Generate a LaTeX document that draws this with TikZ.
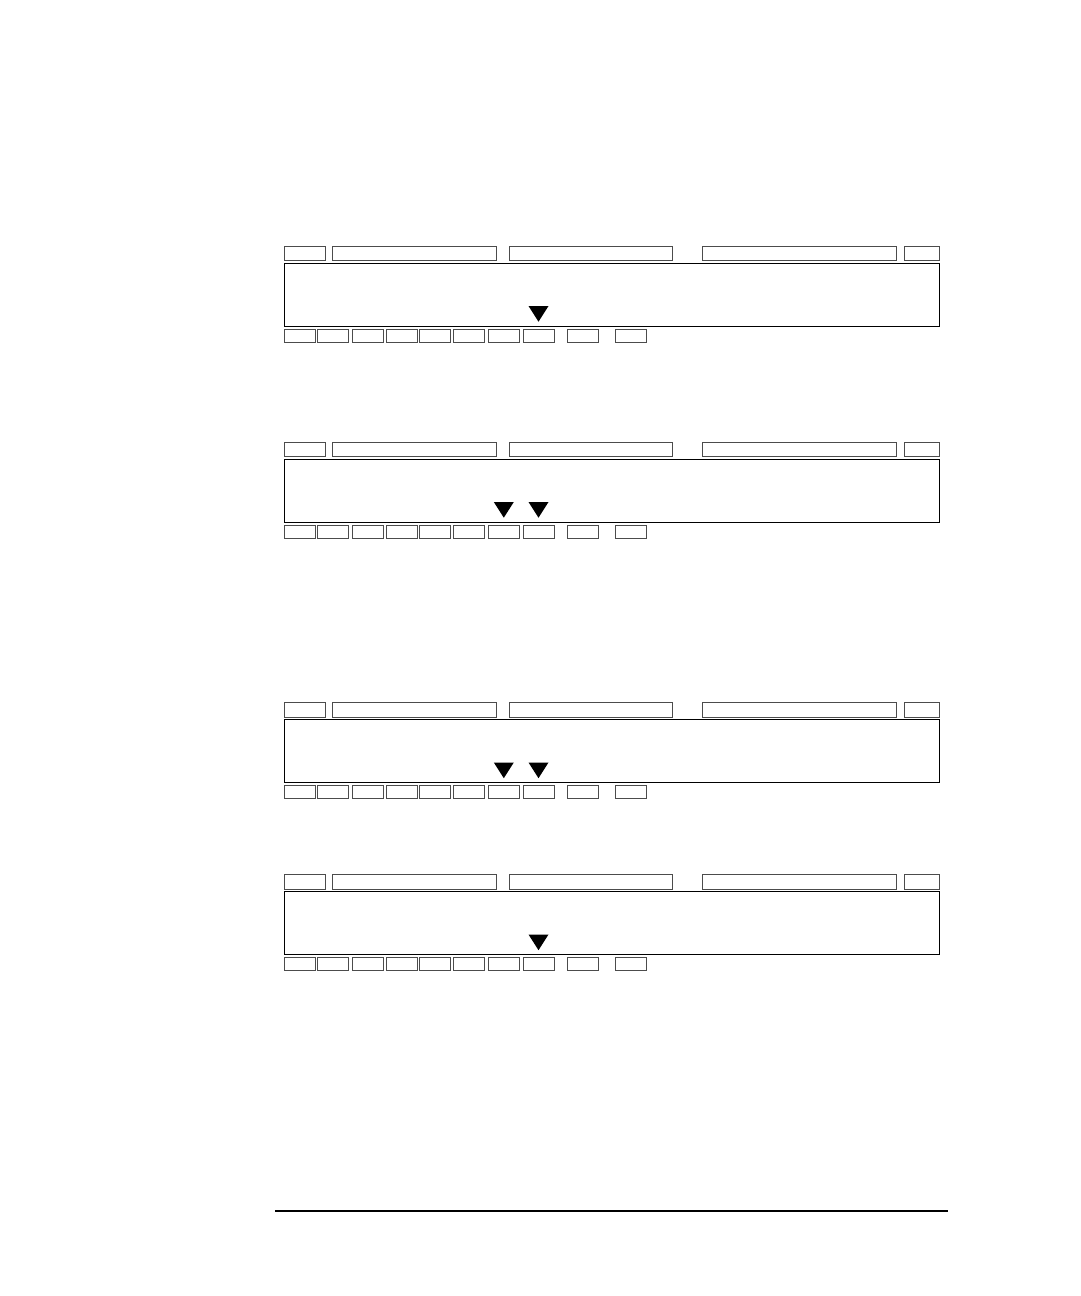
\documentclass[tikz,border=0pt]{standalone}
\usetikzlibrary{positioning}

\tikzset{
  keybox/.style={draw=black!70, line width=0.9pt, inner sep=0pt, outer sep=0pt,
    minimum width=31pt, minimum height=13pt},
  labelbox/.style={draw=black!70, line width=0.9pt, inner sep=0pt, outer sep=0pt,
    minimum height=14.7pt},
  screen/.style={draw=black, line width=1pt, inner sep=0pt, outer sep=0pt,
    minimum width=655.3pt, minimum height=62.7pt},
  marker/.style={fill=black},
}

\begin{document}
\begin{tikzpicture}[x=1pt, y=-1pt]
    \useasboundingbox (0,0) rectangle (1080,1296);

    % four copies of the display, \y = top of the label row
    \foreach \y/\p/\marks in {246/a/{8}, 442/b/{7,8}, 702.5/c/{7,8}, 874.5/d/{8}} {
        % label row
        \node[labelbox, minimum width=41.3pt] (\p t1) at (304.65,{\y+7.35}) {};
        \node[labelbox, minimum width=164pt]  (\p t2) at (414.7,{\y+7.35}) {};
        \node[labelbox, minimum width=163.4pt] (\p t3) at (591,{\y+7.35}) {};
        \node[labelbox, minimum width=194.4pt] (\p t4) at (799.5,{\y+7.35}) {};
        \node[labelbox, minimum width=35pt]   (\p t5) at (921.8,{\y+7.35}) {};

        % screen
        \node[screen] (\p s) at (611.65,{\y+48.65}) {};

        % key row
        \foreach \k/\cx in {1/299.7, 2/333.3, 3/367.8, 4/401.8, 5/435.3,
                            6/469.2, 7/503.8, 8/538.5, 9/582.5, 10/631.2}
            \node[keybox] (\p k\k) at (\cx,{\y+89.8}) {};

        % markers above the keys
        \foreach \m in \marks
            \fill[marker] ([yshift=7.6pt]\p k\m.north) -- ++(-10pt,15.7pt)
                -- ++(20pt,0pt) -- cycle;
    }

    % rule at the foot of the page
    \coordinate (rulel) at (275,1211);
    \coordinate (ruler) at (948,1211);
    \draw[line width=2.8pt] (rulel) -- (ruler);
\end{tikzpicture}
\end{document}
